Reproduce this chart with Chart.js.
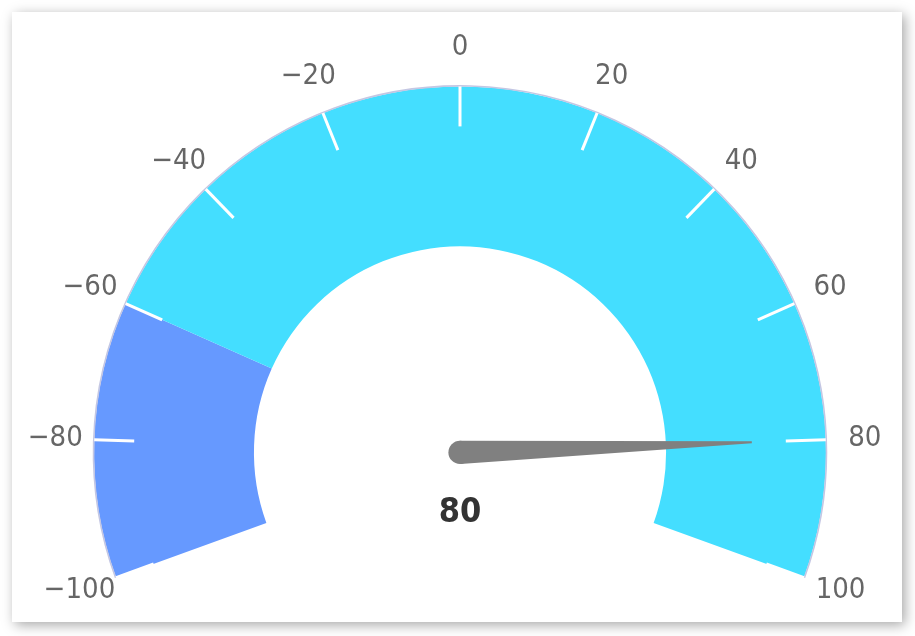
<!DOCTYPE html>
<html><head><meta charset="utf-8">
<script src="https://cdn.jsdelivr.net/npm/chart.js@4/dist/chart.umd.min.js"></script>
<style>
html,body{margin:0;padding:0;background:#fff;width:915px;height:636px;overflow:hidden;}
#card{position:absolute;left:12px;top:12px;width:890px;height:610px;background:#fff;box-shadow:3px 3px 12px rgba(0,0,0,0.35);}
#c{position:absolute;left:0;top:0;}
</style></head><body>
<div id="card"></div>
<canvas id="c" width="915" height="636"></canvas>
<script>
const gaugeMin = -100;
const gaugeMax = 100;
const bandStarts = [-100, -60];
const bandEnds = [-60, 100];
const bandColors = ['#6699FF', '#44DEFF'];
const tickValues = [-100, -80, -60, -40, -20, 0, 20, 40, 60, 80, 100];
const tickLabels = ['\u2212100', '\u221280', '\u221260', '\u221240', '\u221220', '0', '20', '40', '60', '80', '100'];
const needleValue = 80;
const valueLabel = '80';

const bandSizes = bandStarts.map((s, i) => bandEnds[i] - s);
const FONT = '"DejaVu Sans Condensed", "DejaVu Sans", sans-serif';

const gaugePlugin = {
  id: 'gaugeDecor',
  afterDatasetsDraw(chart) {
    const ctx = chart.ctx;
    const arcs = chart.getDatasetMeta(0).data;
    const a0 = arcs[0];
    const cx = a0.x, cy = a0.y, R = a0.outerRadius;
    const start = a0.startAngle;
    const end = arcs[arcs.length - 1].endAngle;
    const ang = v => start + (v - gaugeMin) / (gaugeMax - gaugeMin) * (end - start);
    ctx.save();
    // outer border
    ctx.beginPath();
    ctx.arc(cx, cy, R + 0.5, start, end);
    ctx.lineWidth = 1.6;
    ctx.strokeStyle = '#c4c7e3';
    ctx.stroke();
    // ticks
    ctx.strokeStyle = '#ffffff';
    ctx.lineWidth = 3;
    ctx.lineCap = 'butt';
    tickValues.forEach(v => {
      const a = ang(v);
      ctx.beginPath();
      ctx.moveTo(cx + Math.cos(a) * (R - 40), cy + Math.sin(a) * (R - 40));
      ctx.lineTo(cx + Math.cos(a) * R, cy + Math.sin(a) * R);
      ctx.stroke();
    });
    // labels
    const fs = 29;
    ctx.font = fs + 'px ' + FONT;
    ctx.fillStyle = '#666666';
    ctx.textAlign = 'center';
    ctx.textBaseline = 'alphabetic';
    tickValues.forEach((v, i) => {
      const a = ang(v);
      const lr = R + 39;
      const lx = cx + Math.cos(a) * lr;
      const ly = cy + Math.sin(a) * lr - 3;
      ctx.fillText(tickLabels[i], lx, ly + 0.3645 * fs);
    });
    // needle
    const na = ang(needleValue);
    const len = 292, bw = 11.6, tw = 1;
    const ux = Math.cos(na), uy = Math.sin(na);
    const px = -uy, py = ux;
    ctx.fillStyle = '#808080';
    ctx.beginPath();
    ctx.moveTo(cx + px * bw, cy + py * bw);
    ctx.lineTo(cx + ux * len + px * tw, cy + uy * len + py * tw);
    ctx.lineTo(cx + ux * len - px * tw, cy + uy * len - py * tw);
    ctx.lineTo(cx - px * bw, cy - py * bw);
    ctx.closePath();
    ctx.fill();
    ctx.beginPath();
    ctx.arc(cx, cy, bw, 0, Math.PI * 2);
    ctx.fill();
    // value
    const vf = 34;
    ctx.font = 'bold ' + vf + 'px ' + FONT;
    ctx.fillStyle = '#333333';
    ctx.fillText(valueLabel, cx, cy + 57 + 0.3645 * vf);
    ctx.restore();
  }
};

new Chart(document.getElementById('c'), {
  type: 'doughnut',
  data: {
    labels: bandStarts.map((s, i) => s + ' to ' + bandEnds[i]),
    datasets: [{
      data: bandSizes,
      backgroundColor: bandColors,
      borderWidth: 0,
      hoverOffset: 0
    }]
  },
  options: {
    responsive: false,
    animation: false,
    events: [],
    rotation: -110,
    circumference: 220,
    cutout: '56.3%',
    layout: { padding: { left: 94, right: 89, top: 86, bottom: 58 } },
    plugins: { legend: { display: false }, tooltip: { enabled: false } }
  },
  plugins: [gaugePlugin]
});
</script>
</body></html>
